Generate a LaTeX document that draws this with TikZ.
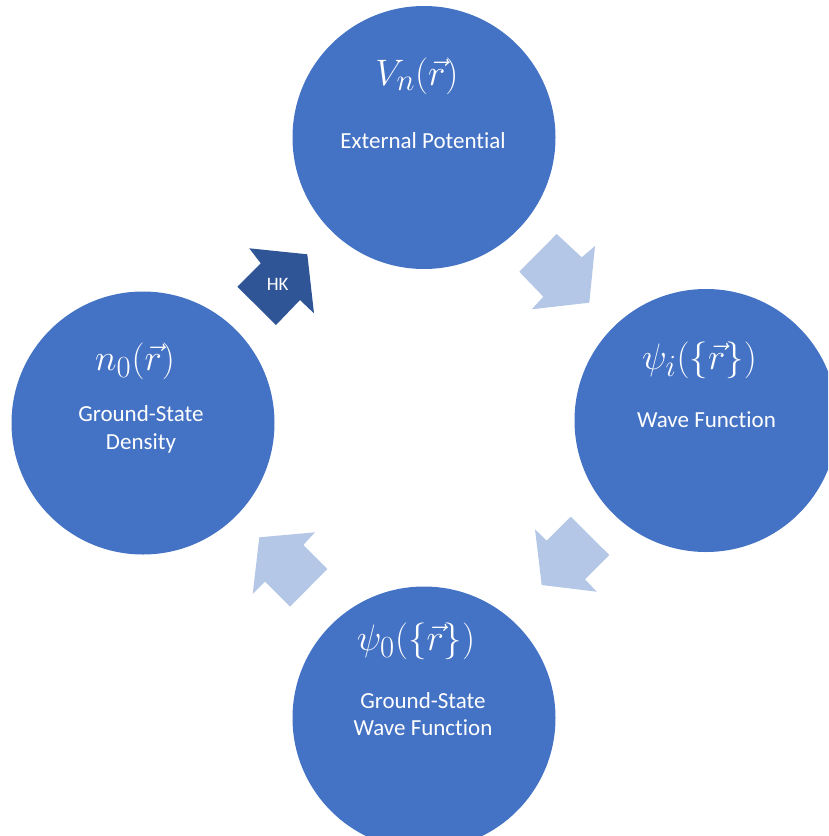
\documentclass[tikz,border=0pt]{standalone}
\usepackage{fontspec}
\setmainfont[Ligatures=NoCommon]{Carlito}
\definecolor{circblue}{HTML}{4472C4}
\definecolor{lightarrow}{HTML}{B4C7E7}
\definecolor{darkarrow}{HTML}{2F5597}
\begin{document}
\begin{tikzpicture}[x=1pt,y=-1pt,
  circ/.style={circle,fill=circblue,draw=none,minimum size=263pt,inner sep=0pt},
  mathlbl/.style={text=white,font=\fontsize{24.88}{30}\selectfont,scale=1.48,inner sep=0pt,anchor=center},
  txtlbl/.style={text=white,font=\fontsize{23}{28}\selectfont,inner sep=0pt,anchor=base},
  lightarr/.style={fill=lightarrow,draw=none},
  darkarr/.style={fill=darkarrow,draw=none}]
\useasboundingbox (0,0) rectangle (828,836);
\begin{scope}
\clip (0,0) rectangle (828,836);
% circles
\node[circ] (vn) at (424,137.5) {};
\node[circ] (psii) at (706,420.5) {};
\node[circ] (psio) at (424,718) {};
\node[circ] (nzero) at (143,423) {};
% arrows
\fill[darkarr] (249.3,248.3) -- (307.3,254.3) -- (314,313.3) -- (300,300) -- (276,325) -- (237.3,286.7) -- (260.7,263.3) -- cycle;
\fill[lightarr] (556.7,234) -- (581.7,257.3) -- (595,246) -- (589.3,302.7) -- (531.7,309.3) -- (543.3,296.7) -- (519.3,271.7) -- cycle;
\fill[lightarr] (570.7,516.7) -- (609.3,555) -- (585,579.3) -- (596.7,591.7) -- (541.7,585) -- (535,529.3) -- (546.7,540.7) -- cycle;
\fill[lightarr] (315,532.3) -- (259.3,537.3) -- (252.7,594) -- (265,581.7) -- (290,606.7) -- (327.3,569) -- (303.3,545) -- cycle;
\end{scope}
% labels
\node[mathlbl] (vnm) at (417,76) {$V_n(\vec{r})$};
\node[txtlbl] (vnt) at (423,148) {External Potential};
\node[mathlbl] (psiim) at (699.5,360) {$\psi_i(\{\vec{r}\})$};
\node[txtlbl] (psiit) at (706.5,427.3) {Wave Function};
\node[mathlbl] (nzerom) at (135,361) {$n_0(\vec{r})$};
\node[txtlbl] (nzerot1) at (141,421.7) {Ground-State};
\node[txtlbl] (nzerot2) at (141,449) {Density};
\node[mathlbl] (psiom) at (416,641) {$\psi_0(\{\vec{r}\})$};
\node[txtlbl] (psiot1) at (423,708.3) {Ground-State};
\node[txtlbl] (psiot2) at (423,735.7) {Wave Function};
\node[text=white,font=\fontsize{19}{22}\selectfont,inner sep=0pt,anchor=base] (hk) at (277.7,290) {HK};
\end{tikzpicture}
\end{document}
